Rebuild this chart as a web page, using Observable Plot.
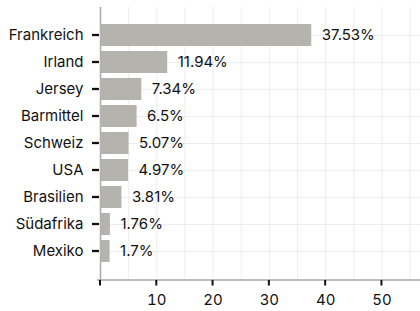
<!DOCTYPE html>
<html>
<head>
<meta charset="utf-8">
<script src="https://cdn.jsdelivr.net/npm/d3@7"></script>
<script src="https://cdn.jsdelivr.net/npm/@observablehq/plot@0.6"></script>
<style>
  html, body { margin: 0; padding: 0; background: #fff; }
  #chart svg { display: block; }
</style>
</head>
<body>
<div id="chart"></div>
<script>
const categories = ["Frankreich", "Irland", "Jersey", "Barmittel", "Schweiz", "USA", "Brasilien", "Südafrika", "Mexiko"];
const shares = [37.53, 11.94, 7.34, 6.5, 5.07, 4.97, 3.81, 1.76, 1.7];
const xTicks = [0, 10, 20, 30, 40, 50];
const xTickLabels = ["", "10", "20", "30", "40", "50"];
const xGrid = [0, 5, 10, 15, 20, 25, 30, 35, 40, 45, 50, 55];

const data = categories.map((c, i) => ({land: c, wert: shares[i]}));
const NS = "http://www.w3.org/2000/svg";

function svgLine(x1, y1, x2, y2, stroke, width) {
  const l = document.createElementNS(NS, "line");
  l.setAttribute("x1", x1); l.setAttribute("y1", y1);
  l.setAttribute("x2", x2); l.setAttribute("y2", y2);
  l.setAttribute("stroke", stroke);
  l.setAttribute("stroke-width", width);
  return l;
}

// bottom axis line
const bottomLine = (index, scales, values, dims) =>
  svgLine(dims.marginLeft - 3, dims.height - dims.marginBottom, dims.width - dims.marginRight,
          dims.height - dims.marginBottom, "#a9a9a9", 1.5);

// tick marks drawn through the plot's own scales
const tickMarks = (index, scales, values, dims) => {
  const g = document.createElementNS(NS, "g");
  const {x, y} = scales;
  const bw = typeof y.bandwidth === "function" ? y.bandwidth() : 0;
  const yb = dims.height - dims.marginBottom;
  for (const v of xTicks) {
    const px = x(v);
    g.appendChild(svgLine(px, yb, px, yb + 5.5, "#111", 2));
  }
  for (const c of categories) {
    const py = y(c) + bw / 2;
    g.appendChild(svgLine(dims.marginLeft - 8, py, dims.marginLeft - 1, py, "#111", 2.3));
  }
  return g;
};

const chart = Plot.plot({
  width: 420,
  height: 311,
  marginLeft: 100,
  marginRight: 0,
  marginTop: 7,
  marginBottom: 31,
  style: {fontFamily: "Inter, sans-serif", fontSize: "15px", color: "#111", background: "#fff"},
  x: {domain: [0, 56.85], ticks: xTicks, tickFormat: (d, i) => xTickLabels[xTicks.indexOf(d)], tickSize: 0, tickPadding: 14, label: null},
  y: {domain: categories, type: "band", paddingInner: 0.18, paddingOuter: 0.59, tickSize: 0, tickPadding: 17, label: null},
  marks: [
    Plot.ruleX(xGrid, {stroke: "#ededed", strokeWidth: 1}),
    Plot.ruleY(categories, {stroke: "#ededed", strokeWidth: 1}),
    Plot.ruleX([0], {stroke: "#a9a9a9", strokeWidth: 1.5}),
    bottomLine,
    Plot.barX(data, {x: "wert", y: "land", fill: "#b5b3ae"}),
    Plot.text(data, {x: "wert", y: "land", text: d => d.wert + "%", textAnchor: "start", dx: 10, fill: "#111", fontSize: 15}),
    tickMarks
  ]
});
document.getElementById("chart").appendChild(chart);
</script>
</body>
</html>
